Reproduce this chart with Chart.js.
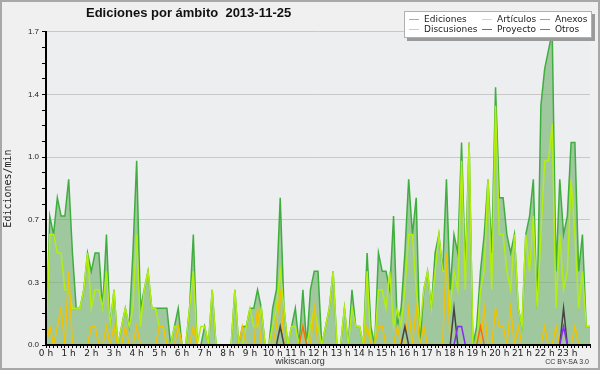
<!DOCTYPE html>
<html>
<head>
<meta charset="utf-8">
<script src="https://cdn.jsdelivr.net/npm/chart.js@4"></script>
<style>
  body { margin: 0; background: #f0f0f0; }
  #wrap { position: relative; width: 600px; height: 370px; font-family: 'Liberation Sans', 'DejaVu Sans', sans-serif; }
  #frame { position: absolute; left: 0; top: 0; width: 600px; height: 370px; box-sizing: border-box; border: 2px solid #a8a8a8; pointer-events: none; }
  #title { position: absolute; left: 86px; top: 5px; font: bold 13px 'Liberation Sans', sans-serif; white-space: pre; color: #111; }
  #legend { position: absolute; left: 404px; top: 11px; width: 186px; height: 25px; background: #fff; border: 1px solid #b0b0b0; box-shadow: 3px 3px 0 #9a9a9a; font: 9px 'DejaVu Sans', sans-serif; color: #222; }
  .item { position: absolute; white-space: nowrap; line-height: 10px; }
  .item i { display: inline-block; width: 10px; height: 1px; vertical-align: middle; margin-right: 5px; }
  #site { position: absolute; left: 0; width: 600px; top: 356px; text-align: center; font-size: 9px; color: #333; }
  #cc { position: absolute; right: 11px; top: 358px; font-size: 7px; color: #333; }
</style>
</head>
<body>
<div id="wrap">
  <canvas id="chart" width="600" height="370"></canvas>
  <div id="title">Ediciones por ámbito  2013-11-25</div>
  <div id="legend"></div>
  <div id="site">wikiscan.org</div>
  <div id="cc">CC BY-SA 3.0</div>
  <div id="frame"></div>
</div>
<script>
// 10-minute slots over the day, values in edits per minute
const slots = Array.from({ length: 145 }, (_, i) => i * 10);

const ediciones = [
  0, 0.7, 0.6, 0.8, 0.7, 0.7, 0.9, 0.5, 0.2, 0.2, 0.3, 0.5, 0.4, 0.5, 0.5, 0.2, 0.6, 0.1, 0.3, 0,
  0.1, 0.2, 0.1, 0.5, 1.0, 0.2, 0.3, 0.4, 0.2, 0.2, 0.2, 0.2, 0.2, 0, 0.1, 0.2, 0, 0, 0.2, 0.6,
  0, 0, 0.1, 0, 0.3, 0, 0, 0, 0, 0, 0.3, 0, 0.1, 0.1, 0.2, 0.2, 0.3, 0.2, 0, 0,
  0.2, 0.3, 0.8, 0.2, 0, 0.1, 0.2, 0, 0.3, 0, 0.3, 0.4, 0.4, 0, 0.1, 0.2, 0.4, 0, 0, 0.2,
  0, 0.3, 0.1, 0.1, 0, 0.5, 0.1, 0, 0.5, 0.4, 0.4, 0.3, 0.7, 0.1, 0.2, 0.5, 0.9, 0.6, 0.8, 0,
  0.3, 0.4, 0.2, 0.5, 0.6, 0.4, 0.9, 0.3, 0.6, 0.5, 1.1, 0.4, 1.1, 0, 0.1, 0.4, 0.6, 0.9, 0.5, 1.4,
  0.8, 0.8, 0.6, 0.5, 0.6, 0.2, 0.1, 0.6, 0.7, 0.9, 0.2, 1.3, 1.5, 1.6, 1.7, 0.4, 0.9, 0.6, 0.7, 1.1,
  1.1, 0.4, 0.6, 0.1, 0.1
];

const articulos = [
  0, 0.6, 0.6, 0.5, 0.5, 0.3, 0.3, 0.2, 0.2, 0.2, 0.3, 0.5, 0.2, 0.3, 0.3, 0.2, 0.4, 0.1, 0.3, 0,
  0.1, 0.2, 0.1, 0.2, 0.6, 0.1, 0.3, 0.4, 0.2, 0.2, 0.1, 0.1, 0, 0, 0.1, 0.1, 0, 0, 0.2, 0.4,
  0, 0.1, 0.1, 0, 0.3, 0, 0, 0, 0, 0, 0.3, 0, 0, 0.1, 0.2, 0.1, 0.1, 0.2, 0, 0,
  0.1, 0.2, 0.4, 0.2, 0, 0.1, 0.1, 0, 0.1, 0, 0.1, 0.2, 0.1, 0, 0.1, 0.2, 0.4, 0, 0, 0.2,
  0, 0.2, 0.1, 0.1, 0, 0.4, 0, 0, 0.3, 0.3, 0.2, 0.4, 0.1, 0.2, 0.1, 0.3, 0.6, 0.6, 0.3, 0.1,
  0.3, 0.4, 0.2, 0.4, 0.6, 0.4, 0.4, 0.2, 0.4, 0.3, 1.0, 0.3, 1.1, 0, 0, 0.3, 0.4, 0.9, 0.3, 1.3,
  0.6, 0.6, 0.4, 0.3, 0.6, 0.2, 0.1, 0.6, 0.4, 0.7, 0.2, 0.6, 1.0, 1.0, 1.2, 0.2, 0.6, 0.3, 0.4, 0.9,
  0.6, 0.2, 0.4, 0.1, 0.1
];

const anexos = new Array(145).fill(0);
anexos[68] = 0.1; anexos[115] = 0.1;

const discusiones = new Array(145).fill(0);
[[1, 0.1], [3, 0.1], [4, 0.2], [6, 0.4], [12, 0.1], [13, 0.1], [16, 0.1], [18, 0.1], [21, 0.1],
 [24, 0.1], [30, 0.1], [31, 0.1], [35, 0.1], [39, 0.1], [52, 0.1], [56, 0.2], [61, 0.1], [62, 0.3],
 [71, 0.2], [85, 0.1], [88, 0.1], [89, 0.1], [93, 0.1], [96, 0.2], [98, 0.2], [100, 0.1], [106, 0.5],
 [116, 0.2], [119, 0.2], [120, 0.1], [121, 0.1], [123, 0.2], [125, 0.1], [132, 0.1], [135, 0.1], [140, 0.1]
].forEach(([i, v]) => { discusiones[i] = v; });

const proyecto = new Array(145).fill(0);
proyecto[62] = 0.1; proyecto[95] = 0.1; proyecto[108] = 0.2; proyecto[137] = 0.2;

const otros = new Array(145).fill(0);
otros[109] = 0.1; otros[110] = 0.1; otros[137] = 0.1;

const yTicks = Array.from({ length: 21 }, (_, k) => k * 0.085);

const series = [
  { label: 'Ediciones', data: ediciones, color: '#3fae3f', order: 5 },
  { label: 'Artículos', data: articulos, color: '#b2ee10', order: 4 },
  { label: 'Anexos', data: anexos, color: '#ff6a10', order: 2 },
  { label: 'Discusiones', data: discusiones, color: '#f2c200', order: 3 },
  { label: 'Proyecto', data: proyecto, color: '#444444', order: 1 },
  { label: 'Otros', data: otros, color: '#8a2cf0', order: 0 },
];

// legend box, laid out like the reference
const legendPos = [
  [4, 2], [77, 2], [135, 2],
  [4, 12], [77, 12], [135, 12],
];
const legendOrder = ['Ediciones', 'Artículos', 'Anexos', 'Discusiones', 'Proyecto', 'Otros'];
const legendColors = {
  'Ediciones': '#7ccc7c', 'Artículos': '#c8f050', 'Anexos': '#f08850',
  'Discusiones': '#f0d050', 'Proyecto': '#707070', 'Otros': '#a050f0',
};
const legendEl = document.getElementById('legend');
legendOrder.forEach((name, k) => {
  const div = document.createElement('div');
  div.className = 'item';
  div.style.left = legendPos[k][0] + 'px';
  div.style.top = legendPos[k][1] + 'px';
  div.innerHTML = `<i style="background:${legendColors[name]}"></i>${name}`;
  legendEl.appendChild(div);
});

const plotBg = {
  id: 'plotBg',
  beforeDraw(chart) {
    const { ctx, chartArea: a } = chart;
    ctx.save();
    ctx.fillStyle = '#f0f0f0';
    ctx.fillRect(0, 0, chart.width, chart.height);
    ctx.fillStyle = '#edeef0';
    ctx.fillRect(a.left, a.top, a.right - a.left, a.bottom - a.top);
    ctx.restore();
  },
};

new Chart(document.getElementById('chart'), {
  type: 'line',
  data: {
    labels: slots,
    datasets: series.map((s) => ({
      label: s.label,
      data: s.data,
      borderColor: s.color,
      borderWidth: 1.5,
      pointRadius: 0,
      tension: 0,
      order: s.order,
      fill: s.label === 'Ediciones' ? 'origin' : false,
      backgroundColor: s.label === 'Ediciones' ? 'rgba(107,175,105,0.6)' : s.color,
    })),
  },
  options: {
    responsive: false,
    animation: false,
    events: [],
    layout: { padding: { top: 32, right: 10, left: 0, bottom: 0 } },
    plugins: { legend: { display: false }, tooltip: { enabled: false } },
    scales: {
      x: {
        type: 'category',
        offset: false,
        afterFit: (scale) => { scale.height = 25; },
        border: { color: '#000', width: 2, z: 1 },
        grid: { drawOnChartArea: false, tickLength: 3, tickColor: '#000' },
        ticks: {
          autoSkip: false,
          maxRotation: 0,
          padding: 0,
          color: '#222',
          font: { family: 'DejaVu Sans', size: 9 },
          callback: (value, index) => (index % 6 === 0 && index < 144 ? `${index / 6} h` : ''),
        },
      },
      y: {
        min: 0,
        max: 1.7,
        afterFit: (scale) => { scale.width = 46; },
        afterBuildTicks: (scale) => { scale.ticks = yTicks.map((v) => ({ value: v })); },
        border: { color: '#000', width: 2, z: 1 },
        grid: {
          color: (ctx) => (ctx.index % 4 === 0 ? '#c8c8c8' : 'rgba(0,0,0,0)'),
          tickColor: '#000',
          tickLength: 4,
        },
        ticks: {
          padding: 3,
          color: '#222',
          font: { family: 'Liberation Sans', size: 8 },
          callback: (value, index) => (index % 4 === 0 ? value.toFixed(1) : ''),
        },
        title: {
          display: true,
          text: 'Ediciones/min',
          color: '#222',
          padding: 2,
          font: { family: 'DejaVu Sans Mono', size: 10 },
        },
      },
    },
  },
  plugins: [plotBg],
});
</script>
</body>
</html>
